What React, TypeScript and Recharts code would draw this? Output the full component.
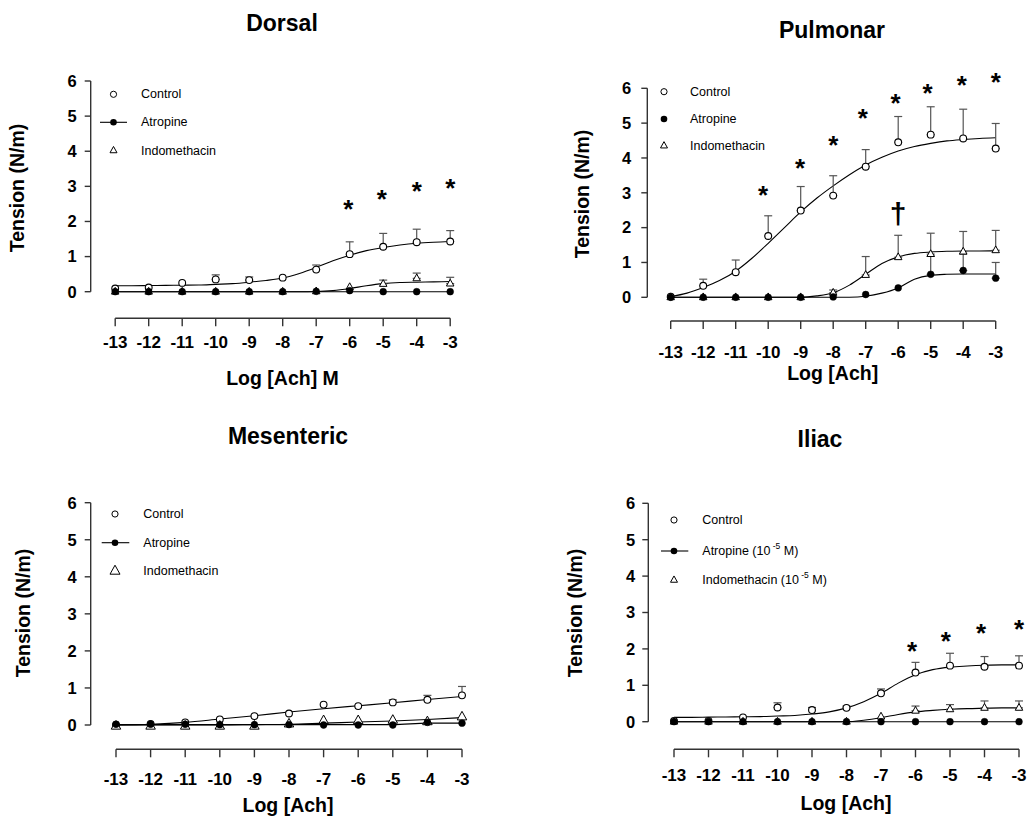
import React from 'react';
import { ComposedChart, Line, Scatter, XAxis, YAxis, ErrorBar, ReferenceLine } from 'recharts';

const FONT = '"Liberation Sans", Arial, Helvetica, sans-serif';
const AX = '#333';
const EB = '#555';

// ---------- shared axes ----------
const doses = [-13, -12, -11, -10, -9, -8, -7, -6, -5, -4, -3];
const fitX = [-13, -12.5, -12, -11.5, -11, -10.5, -10, -9.5, -9, -8.5, -8, -7.5, -7, -6.5, -6, -5.5, -5, -4.5, -4, -3.5, -3];
const yTicks = [0, 1, 2, 3, 4, 5, 6];

// ---------- Dorsal ----------
const dorsalControl = [0.09, 0.12, 0.25, 0.35, 0.33, 0.4, 0.63, 1.07, 1.28, 1.41, 1.43];
const dorsalControlErr = [null, null, null, 0.13, 0.09, null, 0.13, 0.35, 0.38, 0.37, 0.31];
const dorsalControlFit = [0.17, 0.17, 0.175, 0.18, 0.185, 0.19, 0.21, 0.23, 0.27, 0.32, 0.39, 0.52, 0.69, 0.88, 1.04, 1.17, 1.26, 1.33, 1.38, 1.41, 1.43];
const dorsalAtropine = [0, 0, 0, 0, 0, 0, 0.01, 0.03, 0, 0, 0];
const dorsalAtropineFit = [0, 0, 0, 0, 0, 0, 0, 0, 0, 0, 0];
const dorsalIndo = [0, 0, 0, 0, 0, 0, 0.01, 0.13, 0.22, 0.38, 0.23];
const dorsalIndoErr = [null, null, null, null, null, null, null, null, 0.11, 0.15, 0.18];
const dorsalIndoFit = [0, 0, 0, 0, 0, 0, 0, 0, 0, 0, 0, 0, 0.005, 0.03, 0.09, 0.17, 0.23, 0.26, 0.27, 0.28, 0.29];
const dorsalStarX = [-6.04, -5.04, -4, -3];
const dorsalStarY = [2.52, 2.8, 3.04, 3.11];

// ---------- Pulmonar ----------
const pulmControl = [0.02, 0.33, 0.72, 1.76, 2.49, 2.92, 3.75, 4.45, 4.67, 4.56, 4.27];
const pulmControlErr = [null, 0.19, 0.35, 0.58, 0.69, 0.57, 0.49, 0.74, 0.8, 0.84, 0.72];
const pulmControlFit = [0.02, 0.12, 0.28, 0.48, 0.75, 1.12, 1.55, 2.0, 2.45, 2.85, 3.2, 3.52, 3.8, 4.02, 4.2, 4.33, 4.42, 4.49, 4.53, 4.56, 4.58];
const pulmAtropine = [0, 0, 0, 0, 0, 0.01, 0.08, 0.27, 0.66, 0.77, 0.55];
const pulmAtropineErr = [null, null, null, null, null, null, null, null, 0.52, 0.47, 0.45];
const pulmAtropineFit = [0, 0, 0, 0, 0, 0, 0, 0, 0, 0, 0, 0, 0.03, 0.12, 0.27, 0.52, 0.63, 0.66, 0.67, 0.67, 0.67];
const pulmIndo = [0, 0, 0, 0, 0, 0.13, 0.64, 1.15, 1.24, 1.31, 1.35];
const pulmIndoErr = [null, null, null, null, null, 0.08, 0.53, 0.63, 0.6, 0.58, 0.57];
const pulmIndoFit = [0, 0, 0, 0, 0, 0, 0, 0, 0, 0.04, 0.13, 0.35, 0.66, 0.97, 1.16, 1.26, 1.3, 1.32, 1.33, 1.33, 1.34];
const pulmStarX = [-10.16, -9.02, -8, -7.09, -6.08, -5.1, -4.04, -3];
const pulmStarY = [3.11, 3.89, 4.55, 5.31, 5.76, 6.03, 6.27, 6.35];
const pulmDaggerX = [-6];
const pulmDaggerY = [2.33];

// ---------- Mesenteric ----------
const mesControl = [0, 0.03, 0.07, 0.15, 0.24, 0.31, 0.55, 0.51, 0.61, 0.68, 0.8];
const mesControlErr = [null, null, null, null, null, null, null, null, 0.07, 0.12, 0.24];
const mesControlFit = [0, 0.02, 0.07, 0.16, 0.25, 0.35, 0.44, 0.52, 0.6, 0.69, 0.77];
const mesAtropine = [0.02, 0.02, 0.02, 0.01, 0.01, 0.01, 0, 0, 0, 0.07, 0.05];
const mesAtropineFit = [0.01, 0.01, 0.01, 0.01, 0.01, 0.01, 0.01, 0.01, 0.01, 0.05, 0.05];
const mesIndo = [-0.03, -0.03, -0.03, -0.03, -0.03, 0.03, 0.12, 0.12, 0.13, 0.09, 0.22];
const mesIndoFit = [0, 0, 0, 0, 0.01, 0.02, 0.05, 0.08, 0.11, 0.15, 0.2];

// ---------- Iliac ----------
const iliacControl = [0.02, 0.02, 0.12, 0.39, 0.32, 0.38, 0.78, 1.35, 1.54, 1.51, 1.54];
const iliacControlErr = [null, null, null, 0.13, 0.07, 0.05, 0.12, 0.28, 0.34, 0.28, 0.27];
const iliacControlFit = [0.12, 0.12, 0.125, 0.13, 0.135, 0.14, 0.155, 0.17, 0.21, 0.27, 0.38, 0.55, 0.78, 1.06, 1.29, 1.43, 1.5, 1.53, 1.55, 1.56, 1.56];
const iliacAtropine = [0, 0, 0, 0, 0, 0, 0, 0, 0, 0, 0];
const iliacAtropineFit = [0, 0, 0, 0, 0, 0, 0, 0, 0, 0, 0];
const iliacIndo = [0, 0, 0, 0, 0, 0, 0.14, 0.3, 0.34, 0.38, 0.38];
const iliacIndoErr = [null, null, null, null, null, null, null, 0.13, 0.13, 0.19, 0.19];
const iliacIndoFit = [0, 0, 0, 0, 0, 0, 0, 0, 0, 0, 0, 0.04, 0.11, 0.2, 0.27, 0.31, 0.34, 0.36, 0.37, 0.38, 0.38];
const iliacStarX = [-6.1, -5.12, -4.1, -3];
const iliacStarY = [2.12, 2.38, 2.61, 2.72];

// ---------- helpers ----------
type Pt = { x: number; y: number; e?: number[] | null };
const pts = (ys: number[], errs?: (number | null)[]): Pt[] =>
  doses.map((x, i) => ({ x, y: ys[i], e: errs && errs[i] != null ? [0, errs[i] as number] : null }));
const line = (xs: number[], ys: number[]): Pt[] => xs.map((x, i) => ({ x, y: ys[i] }));

const OpenCircle = (p: any) => <circle cx={p.cx} cy={p.cy} r={3.4} fill="#fff" stroke="#000" strokeWidth={1.1} />;
const FilledCircle = (p: any) => <circle cx={p.cx} cy={p.cy} r={3.4} fill="#000" stroke="#000" strokeWidth={0.5} />;
const makeTriangle = (s: number) => (p: any) => (
  <polygon
    points={`${p.cx},${p.cy - s * 0.58} ${p.cx - s / 2},${p.cy + s * 0.32} ${p.cx + s / 2},${p.cy + s * 0.32}`}
    fill="#fff"
    stroke="#000"
    strokeWidth={1}
  />
);
const Empty = () => <g />;
const Star = (p: any) => (
  <text x={p.cx} y={p.cy + 15} textAnchor="middle" fontSize={26} fontWeight="bold" fontFamily={FONT} fill="#000">
    *
  </text>
);
const Dagger = (p: any) => (
  <text x={p.cx} y={p.cy + 8} textAnchor="middle" fontSize={30} fontWeight="bold" fontFamily={FONT} fill="#000">
    †
  </text>
);

type Series = { points: Pt[]; fit: Pt[] };
type PanelCfg = {
  box: { left: number; top: number; width: number; height: number };
  px: { plotLeft: number; x13: number; x3: number; y6: number; y0: number; axisY: number };
  tmx: number;
  tmy: number;
  control: Series;
  atropine: Series;
  indo: Series;
  tri: number;
  stars: Pt[];
  daggers: Pt[];
};

function Panel({ cfg }: { cfg: PanelCfg }) {
  const { box, px } = cfg;
  const ux = (px.x3 - px.x13) / 10;
  const uy = (px.y0 - px.y6) / 6;
  const xMin = -13 - (px.x13 - px.plotLeft) / ux;
  const yMax = 6.5;
  const yMin = -(px.axisY - px.y0) / uy;
  const plotTop = px.y6 - (yMax - 6) * uy;
  const YW = 60;
  const XH = 40;
  const margin = {
    left: px.plotLeft - box.left - YW,
    right: box.left + box.width - px.x3,
    top: plotTop - box.top,
    bottom: box.top + box.height - px.axisY - XH,
  };
  const Tri = makeTriangle(cfg.tri);
  const tickStyle = { fill: '#000', fontWeight: 700, fontFamily: FONT };
  const seriesList = [
    { s: cfg.control, shape: OpenCircle },
    { s: cfg.indo, shape: Tri },
    { s: cfg.atropine, shape: FilledCircle },
  ];
  return (
    <div style={{ position: 'absolute', left: box.left, top: box.top }}>
      <ComposedChart width={box.width} height={box.height} margin={margin}>
        <XAxis
          type="number"
          dataKey="x"
          domain={[xMin, -3]}
          ticks={doses}
          interval={0}
          axisLine={false}
          tickLine={{ stroke: AX, strokeWidth: 1.4 }}
          tickSize={8}
          tickMargin={cfg.tmx}
          height={XH}
          tick={{ ...tickStyle, fontSize: 17 }}
        />
        <YAxis
          type="number"
          dataKey="y"
          domain={[yMin, yMax]}
          ticks={yTicks}
          interval={0}
          axisLine={false}
          tickLine={{ stroke: AX, strokeWidth: 1.4 }}
          tickSize={6}
          tickMargin={cfg.tmy}
          width={YW}
          tick={{ ...tickStyle, fontSize: 16.5 }}
        />
        <ReferenceLine segment={[{ x: xMin, y: 0 }, { x: xMin, y: 6 }]} stroke={AX} strokeWidth={1.4} ifOverflow="visible" />
        <ReferenceLine segment={[{ x: -13, y: yMin }, { x: -3, y: yMin }]} stroke={AX} strokeWidth={1.4} ifOverflow="visible" />
        {seriesList.map((it, i) => (
          <Line
            key={'fit' + i}
            data={it.s.fit}
            dataKey="y"
            type="monotone"
            dot={false}
            stroke="#000"
            strokeWidth={1.1}
            isAnimationActive={false}
          />
        ))}
        {seriesList.map((it, i) => (
          <Scatter key={'err' + i} data={it.s.points} dataKey="y" shape={Empty} isAnimationActive={false}>
            <ErrorBar dataKey="e" direction="y" width={4} stroke={EB} strokeWidth={1.2} isAnimationActive={false} />
          </Scatter>
        ))}
        {seriesList.map((it, i) => (
          <Scatter key={'pts' + i} data={it.s.points} dataKey="y" shape={it.shape} isAnimationActive={false} />
        ))}
        <Scatter data={cfg.stars} dataKey="y" shape={Star} isAnimationActive={false} />
        <Scatter data={cfg.daggers} dataKey="y" shape={Dagger} isAnimationActive={false} />
      </ComposedChart>
    </div>
  );
}

const panels: PanelCfg[] = [
  {
    box: { left: 0, top: 0, width: 515, height: 400 },
    px: { plotLeft: 90.7, x13: 115.2, x3: 450.2, y6: 81, y0: 291.7, axisY: 318.3 },
    tmx: 10,
    tmy: 8,
    control: { points: pts(dorsalControl, dorsalControlErr), fit: line(fitX, dorsalControlFit) },
    atropine: { points: pts(dorsalAtropine), fit: line(doses, dorsalAtropineFit) },
    indo: { points: pts(dorsalIndo, dorsalIndoErr), fit: line(fitX, dorsalIndoFit) },
    tri: 7.5,
    stars: line(dorsalStarX, dorsalStarY),
    daggers: [],
  },
  {
    box: { left: 515, top: 0, width: 514, height: 400 },
    px: { plotLeft: 647.3, x13: 670.7, x3: 995.7, y6: 88.3, y0: 297.3, axisY: 321 },
    tmx: 17,
    tmy: 10,
    control: { points: pts(pulmControl, pulmControlErr), fit: line(fitX, pulmControlFit) },
    atropine: { points: pts(pulmAtropine, pulmAtropineErr), fit: line(fitX, pulmAtropineFit) },
    indo: { points: pts(pulmIndo, pulmIndoErr), fit: line(fitX, pulmIndoFit) },
    tri: 7.5,
    stars: line(pulmStarX, pulmStarY),
    daggers: line(pulmDaggerX, pulmDaggerY),
  },
  {
    box: { left: 0, top: 400, width: 515, height: 416 },
    px: { plotLeft: 90.7, x13: 116, x3: 462, y6: 502.7, y0: 725, axisY: 749.3 },
    tmx: 16,
    tmy: 8,
    control: { points: pts(mesControl, mesControlErr), fit: line(doses, mesControlFit) },
    atropine: { points: pts(mesAtropine), fit: line(doses, mesAtropineFit) },
    indo: { points: pts(mesIndo), fit: line(doses, mesIndoFit) },
    tri: 9.5,
    stars: [],
    daggers: [],
  },
  {
    box: { left: 515, top: 400, width: 514, height: 416 },
    px: { plotLeft: 648.3, x13: 674, x3: 1019, y6: 503.3, y0: 721.7, axisY: 749.3 },
    tmx: 12,
    tmy: 7,
    control: { points: pts(iliacControl, iliacControlErr), fit: line(fitX, iliacControlFit) },
    atropine: { points: pts(iliacAtropine), fit: line(doses, iliacAtropineFit) },
    indo: { points: pts(iliacIndo, iliacIndoErr), fit: line(fitX, iliacIndoFit) },
    tri: 7.5,
    stars: line(iliacStarX, iliacStarY),
    daggers: [],
  },
];

// ---------- text overlay ----------
const titles = [
  { t: 'Dorsal', x: 282, y: 23 },
  { t: 'Pulmonar', x: 832, y: 30 },
  { t: 'Mesenteric', x: 288, y: 435.5 },
  { t: 'Iliac', x: 820, y: 438.7 },
];
const yLabels = [
  { x: 17, y: 188 },
  { x: 582, y: 194 },
  { x: 22.7, y: 613 },
  { x: 574.5, y: 613 },
];
const xLabels = [
  { t: 'Log [Ach] M', x: 282.5, y: 378 },
  { t: 'Log [Ach]', x: 832.7, y: 373 },
  { t: 'Log [Ach]', x: 288, y: 804.5 },
  { t: 'Log [Ach]', x: 846, y: 803 },
];

type LegendCfg = { mx: number; tx: number; rows: number[]; line: number[] | null; tri: number; iliac?: boolean };
const legends: LegendCfg[] = [
  { mx: 113.5, tx: 141, rows: [94.3, 122.3, 150.5], line: [100, 127], tri: 7 },
  { mx: 664, tx: 690, rows: [91.7, 119, 145.7], line: null, tri: 7 },
  { mx: 115, tx: 143.3, rows: [514, 542.7, 571], line: [101.7, 129.3], tri: 10 },
  { mx: 674, tx: 702.3, rows: [520, 551, 580], line: [661, 688.3], tri: 7, iliac: true },
];

function LegendBlock({ lg }: { lg: LegendCfg }) {
  const fs = 12.5;
  const s = lg.tri;
  const [r0, r1, r2] = lg.rows;
  const txt = (y: number, content: React.ReactNode) => (
    <text x={lg.tx} y={y} dominantBaseline="central" fontSize={fs} fontFamily={FONT} fill="#000">
      {content}
    </text>
  );
  const sup = (base: string) => (
    <>
      {base}
      <tspan fontSize={8.5} dy={-5}> -5</tspan>
      <tspan dy={5}> M)</tspan>
    </>
  );
  return (
    <g>
      <circle cx={lg.mx} cy={r0} r={3.1} fill="#fff" stroke="#000" strokeWidth={1} />
      {txt(r0, 'Control')}
      {lg.line && <line x1={lg.line[0]} x2={lg.line[1]} y1={r1} y2={r1} stroke="#000" strokeWidth={1.1} />}
      <circle cx={lg.mx} cy={r1} r={3.3} fill="#000" />
      {txt(r1, lg.iliac ? sup('Atropine (10') : 'Atropine')}
      <polygon
        points={`${lg.mx},${r2 - s * 0.58} ${lg.mx - s / 2},${r2 + s * 0.32} ${lg.mx + s / 2},${r2 + s * 0.32}`}
        fill="#fff"
        stroke="#000"
        strokeWidth={1}
      />
      {txt(r2, lg.iliac ? sup('Indomethacin (10') : 'Indomethacin')}
    </g>
  );
}

export default function App() {
  return (
    <div style={{ position: 'absolute', left: 0, top: 0, width: 1029, height: 816, background: '#fff', overflow: 'hidden' }}>
      {panels.map((p, i) => (
        <Panel key={i} cfg={p} />
      ))}
      <svg width={1029} height={816} style={{ position: 'absolute', left: 0, top: 0, pointerEvents: 'none' }}>
        {titles.map((t, i) => (
          <text key={'t' + i} x={t.x} y={t.y} textAnchor="middle" dominantBaseline="central" fontSize={23} fontWeight="bold" fontFamily={FONT} fill="#000">
            {t.t}
          </text>
        ))}
        {yLabels.map((t, i) => (
          <text
            key={'y' + i}
            x={t.x}
            y={t.y}
            transform={`rotate(-90 ${t.x} ${t.y})`}
            textAnchor="middle"
            dominantBaseline="central"
            fontSize={19.5}
            fontWeight="bold"
            fontFamily={FONT}
            fill="#000"
          >
            Tension (N/m)
          </text>
        ))}
        {xLabels.map((t, i) => (
          <text key={'x' + i} x={t.x} y={t.y} textAnchor="middle" dominantBaseline="central" fontSize={19.5} fontWeight="bold" fontFamily={FONT} fill="#000">
            {t.t}
          </text>
        ))}
        {legends.map((lg, i) => (
          <LegendBlock key={'l' + i} lg={lg} />
        ))}
      </svg>
    </div>
  );
}
